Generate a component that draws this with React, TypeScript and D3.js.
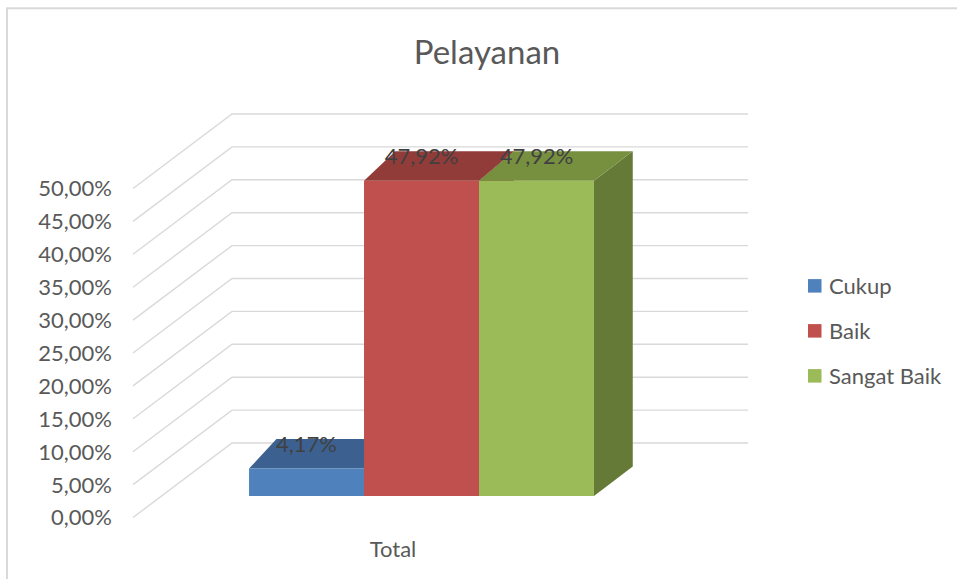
import React from "react";
import * as d3 from "d3";

// ---- data ----
const categories = ["Total"];
const seriesNames = ["Cukup", "Baik", "Sangat Baik"];
const seriesValues = [0.0417, 0.4792, 0.4792];
const valueLabels = ["4,17%", "47,92%", "47,92%"];
const yTicks = [0, 0.05, 0.1, 0.15, 0.2, 0.25, 0.3, 0.35, 0.4, 0.45, 0.5];
const title = "Pelayanan";

// excel-ish 3d palette (front, top, side)
const frontColors = ["#4f81bd", "#c0504d", "#9bbb59"];
const topColors = ["#3c6190", "#923c3a", "#77903f"];
const sideColors = ["#35567f", "#7f3432", "#667a37"];

const W = 957;
const H = 579;
const FONT = "Lato, 'Open Sans', sans-serif";

// projection setup
const floorLeft = 133;
const floorFrontY = 517.5;
const wallDx = 99;
const wallDy = 74.5;
const barZ = 0.288; // bar front plane, as fraction of floor depth
const barDepthDy = 29.5;

const fmtTick = (v: number) => (v * 100).toFixed(2).replace(".", ",") + "%";

export default function App() {
  const y = d3.scaleLinear().domain([0, 0.5]).range([0, 329]);
  const x0 = d3
    .scaleBand<string>()
    .domain(categories)
    .range([135, 651])
    .paddingInner(0)
    .paddingOuter(0.248);
  const x1 = d3
    .scaleBand<string>()
    .domain(seriesNames)
    .range([0, x0.bandwidth()]);
  const legendY = d3.scalePoint<string>().domain(seriesNames).range([285.8, 375.8]);

  // perspective: depth shift of bar tops grows to the right
  const barDepthDx = (sx: number) => 27.4 + (sx - 249) * 0.033;

  const frontY = (v: number) => floorFrontY - y(v);
  const backY = (v: number) => floorFrontY - wallDy - y(v);
  const barBaseY = floorFrontY - barZ * wallDy;

  const bars = categories.flatMap((c) =>
    seriesNames.map((s, i) => {
      const xl = (x0(c) ?? 0) + (x1(s) ?? 0) + barZ * wallDx;
      const xr = xl + x1.bandwidth();
      const yt = barBaseY - y(seriesValues[i]);
      const yb = barBaseY;
      const dl = barDepthDx(xl);
      const dr = barDepthDx(xr);
      const line = d3.line();
      return {
        i,
        xl,
        xr,
        yt,
        front: line([[xl, yt], [xr, yt], [xr, yb], [xl, yb]]) + "Z",
        top: line([[xl, yt], [xr, yt], [xr + dr, yt - barDepthDy], [xl + dl, yt - barDepthDy]]) + "Z",
        side: line([[xr, yt], [xr + dr, yt - barDepthDy], [xr + dr, yb - barDepthDy], [xr, yb]]) + "Z",
      };
    })
  );

  return (
    <svg
      width={W}
      height={H}
      viewBox={`0 0 ${W} ${H}`}
      style={{ position: "absolute", left: 0, top: 0, background: "#fff" }}
    >
      <rect x={7} y={8.3} width={1000} height={1000} fill="#fff" stroke="#d9d9d9" strokeWidth={2} />

      <text x={487} y={64} textAnchor="middle" fontFamily={FONT} fontSize={33} fill="#595959">
        {title}
      </text>

      {/* gridlines: side wall diagonal + back wall horizontal */}
      <g stroke="#d9d9d9" strokeWidth={1.4} fill="none">
        {yTicks.map((t) => (
          <path
            key={t}
            d={`M${floorLeft},${frontY(t)}L${floorLeft + wallDx},${backY(t)}L748,${backY(t)}`}
          />
        ))}
      </g>

      {/* y tick labels */}
      <g fontFamily={FONT} fontSize={22} fill="#595959" textAnchor="end">
        {yTicks.map((t) => (
          <text key={t} x={112} y={frontY(t)} dy="0.36em">
            {fmtTick(t)}
          </text>
        ))}
      </g>

      {/* bars */}
      {bars.map((b) => (
        <g key={b.i}>
          <path d={b.side} fill={sideColors[b.i]} />
          <path d={b.top} fill={topColors[b.i]} />
          <path d={b.front} fill={frontColors[b.i]} />
        </g>
      ))}

      {/* value labels */}
      <g fontFamily={FONT} fontSize={22} fill="#404040" textAnchor="middle">
        {bars.map((b) => (
          <text key={b.i} x={(b.xl + b.xr) / 2} y={b.yt - 17}>
            {valueLabels[b.i]}
          </text>
        ))}
      </g>

      {/* category label */}
      {categories.map((c) => (
        <text
          key={c}
          x={(x0(c) ?? 0) + x0.bandwidth() / 2}
          y={556.5}
          textAnchor="middle"
          fontFamily={FONT}
          fontSize={22}
          fill="#595959"
        >
          {c}
        </text>
      ))}

      {/* legend */}
      <g fontFamily={FONT} fontSize={22} fill="#595959">
        {seriesNames.map((s, i) => (
          <g key={s} transform={`translate(808,${legendY(s)})`}>
            <rect x={0} y={-6.7} width={13.5} height={13.5} fill={frontColors[i]} />
            <text x={21} y={0} dy="0.36em">
              {s}
            </text>
          </g>
        ))}
      </g>
    </svg>
  );
}
